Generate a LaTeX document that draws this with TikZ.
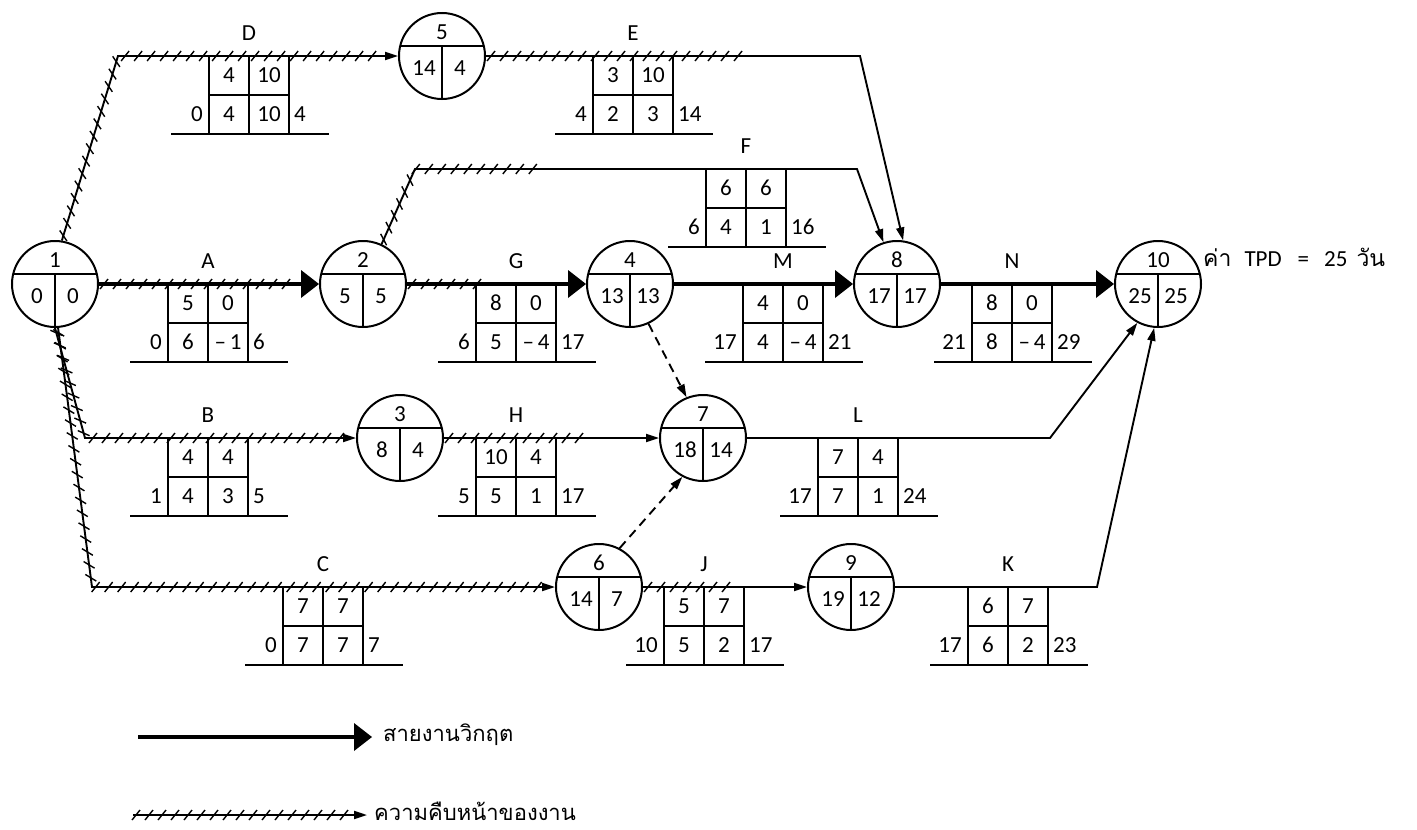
\documentclass[tikz,border=0pt]{standalone}
\usepackage{fontspec}
\setmainfont{Carlito}
\newfontfamily\thaifont[Script=Thai]{Loma}
\usetikzlibrary{arrows.meta,decorations.markings}

% event circle: name, x, y, event number, earliest, latest
\newcommand{\evnode}[6]{%
  \node[evt] (#1) at (#2,#3) {};
  \draw[grid] ({#2-41.8},{#3-10}) -- ({#2+41.8},{#3-10});
  \draw[grid] ({#2},{#3-10}) -- ({#2},{#3+43});
  \node[num] (#1-n) at ({#2},{#3-24}) {#4};
  \node[num] (#1-l) at ({#2-18},{#3+12}) {#5};
  \node[num] (#1-r) at ({#2+18},{#3+12}) {#6};
}

% activity table hanging under its arrow: label, x0, y, top-left, top-right,
% start, bottom-left, bottom-right, finish
\newcommand{\acttable}[9]{%
  \draw[grid] ({#2},{#3}) -- ({#2},{#3+78});
  \draw[grid] ({#2+40},{#3}) -- ({#2+40},{#3+78});
  \draw[grid] ({#2+80},{#3}) -- ({#2+80},{#3+78});
  \draw[grid] ({#2},{#3+39}) -- ({#2+80},{#3+39});
  \draw[grid] ({#2-38},{#3+78}) -- ({#2+120},{#3+78});
  \node[num] (t#1) at ({#2+40},{#3-23}) {#1};
  \node[num] (t#1-a) at ({#2+20},{#3+19}) {#4};
  \node[num] (t#1-b) at ({#2+60},{#3+19}) {#5};
  \node[num,anchor=east] (t#1-s) at ({#2-6},{#3+58}) {#6};
  \node[num] (t#1-c) at ({#2+20},{#3+58}) {#7};
  \node[num] (t#1-d) at ({#2+60},{#3+58}) {#8};
  \node[num,anchor=west] (t#1-f) at ({#2+85},{#3+58}) {#9};
}

\begin{document}
\begin{tikzpicture}[x=1pt,y=-1pt,
  evt/.style={circle,draw,line width=2pt,minimum size=86pt,inner sep=0pt},
  grid/.style={line width=1.8pt},
  num/.style={inner sep=0pt,font=\fontsize{23}{26}\selectfont},
  act/.style={line width=1.9pt,-{Triangle[length=13pt,width=8pt]}},
  crit/.style={line width=4.5pt,-{Triangle[length=18pt,width=28pt,line width=0pt]}},
  tick/.style={line width=1.4pt,solid,-},
  hatch/.style n args={2}{postaction={decorate,decoration={markings,
      mark=between positions #1 and #2 step 13pt with
      {\draw[tick] (-4pt,-5pt) -- (4pt,5pt);}}}},
  thai/.style={inner sep=0pt,anchor=west,font=\thaifont\fontsize{22}{26}\selectfont}]
\useasboundingbox (0,0) rectangle (1417,830);

% events
\evnode{n1}{55}{284}{1}{0}{0}
\evnode{n2}{363}{284}{2}{5}{5}
\evnode{n3}{400}{438}{3}{8}{4}
\evnode{n4}{630}{284}{4}{13}{13}
\evnode{n5}{442}{56}{5}{14}{4}
\evnode{n6}{599}{587}{6}{14}{7}
\evnode{n7}{703}{438}{7}{18}{14}
\evnode{n8}{897}{284}{8}{17}{17}
\evnode{n9}{851}{587}{9}{19}{12}
\evnode{n10}{1158}{284}{10}{25}{25}

% bends of the activity arrows
\coordinate (dD) at (118,56);
\coordinate (bB) at (85,438);
\coordinate (bC) at (92,587);
\coordinate (bE) at (860,56);
\coordinate (hE) at (743,56);
\coordinate (bF1) at (415,169);
\coordinate (hF) at (543,169);
\coordinate (bF2) at (857,169);
\coordinate (hG) at (482,284);
\coordinate (hH) at (583,438);
\coordinate (hJ) at (732,587);
\coordinate (bL) at (1050,438);
\coordinate (bK) at (1097,587);

% activities
\draw[crit,hatch={5pt}{-22pt}] (n1.east) -- (n2.west);
\draw[act,hatch={5pt}{-16pt}] (n1.81) -- (dD) -- (n5.west);
\draw[act,hatch={5pt}{-16pt}] (n1.-90) -- (bB) -- (n3.west);
\draw[act,hatch={5pt}{-16pt}] (n1.-86) -- (bC) -- (n6.west);
\draw[act] (n5.east) -- (bE) -- (n8.82);
\path[hatch={5pt}{-2pt}] (n5.east) -- (hE);
\draw[act] (n2.65) -- (bF1) -- (bF2) -- (n8.108);
\path[hatch={5pt}{-2pt}] (n2.65) -- (bF1) -- (hF);
\draw[crit] (n2.east) -- (n4.west);
\path[hatch={5pt}{-2pt}] (n2.east) -- (hG);
\draw[crit] (n4.east) -- (n8.west);
\draw[crit] (n8.east) -- (n10.west);
\draw[act] (n3.east) -- (n7.west);
\path[hatch={5pt}{-2pt}] (n3.east) -- (hH);
\draw[act] (n7.east) -- (bL) -- (n10.-118);
\draw[act] (n6.east) -- (n9.west);
\path[hatch={5pt}{-2pt}] (n6.east) -- (hJ);
\draw[act] (n9.east) -- (bK) -- (n10.-95);
\draw[act,dash pattern=on 9pt off 6pt] (n4.-65) -- (n7.112);
\draw[act,dash pattern=on 9pt off 6pt] (n6.62) -- (n7.-118);

% activity tables
\acttable{D}{209}{56}{4}{10}{0}{4}{10}{4}
\acttable{E}{593}{56}{3}{10}{4}{2}{3}{14}
\acttable{F}{706}{169}{6}{6}{6}{4}{1}{16}
\acttable{A}{168}{284}{5}{0}{0}{6}{–\,1}{6}
\acttable{G}{476}{284}{8}{0}{6}{5}{–\,4}{17}
\acttable{M}{743}{284}{4}{0}{17}{4}{–\,4}{21}
\acttable{N}{972}{284}{8}{0}{21}{8}{–\,4}{29}
\acttable{B}{168}{438}{4}{4}{1}{4}{3}{5}
\acttable{H}{476}{438}{10}{4}{5}{5}{1}{17}
\acttable{L}{818}{438}{7}{4}{17}{7}{1}{24}
\acttable{C}{283}{587}{7}{7}{0}{7}{7}{7}
\acttable{J}{664}{587}{5}{7}{10}{5}{2}{17}
\acttable{K}{968}{587}{6}{7}{17}{6}{2}{23}

% project duration
\node[num,anchor=west] (tpd) at (1203,257)
  {{\thaifont\fontsize{23}{26}\selectfont ค่า}\hspace{13pt}TPD\hspace{16pt}=\hspace{15pt}25\hspace{9pt}{\thaifont\fontsize{23}{26}\selectfont วัน}};

% legend
\coordinate (lg1a) at (138,737);
\coordinate (lg1b) at (372,737);
\coordinate (lg2a) at (133,815);
\coordinate (lg2b) at (367,815);
\draw[crit] (lg1a) -- (lg1b);
\node[thai] (lg1t) at (383,735) {สายงานวิกฤต};
\draw[act,hatch={3pt}{-16pt}] (lg2a) -- (lg2b);
\node[thai] (lg2t) at (374,811) {ความคืบหน้าของงาน};
\end{tikzpicture}
\end{document}
